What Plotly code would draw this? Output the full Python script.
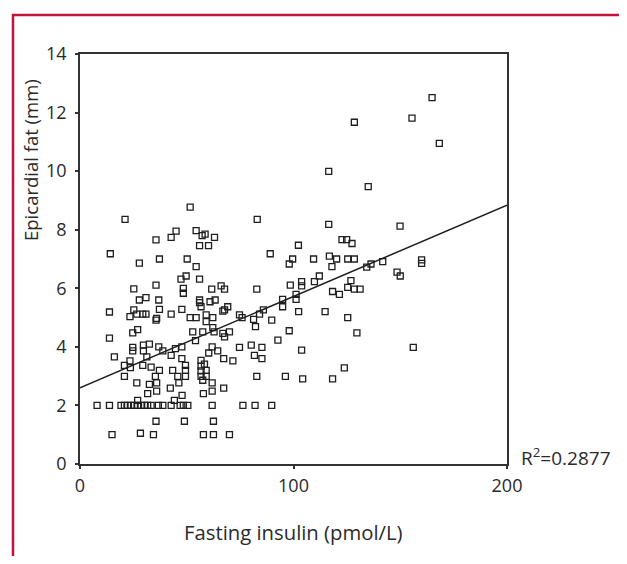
import plotly.graph_objects as go

# Fasting insulin (pmol/L) and epicardial fat thickness (mm)
insulin = [
    21.1, 51.6, 83.0, 35.6, 42.7, 45.0, 54.4, 56.0, 58.6, 57.2, 63.0, 60.2,
    14.2, 89.1, 27.8, 37.2, 50.2, 54.4, 35.6, 49.7, 47.3, 56.0, 25.2, 48.4,
    48.4, 61.7, 66.1, 67.7, 82.8, 27.8, 30.9, 36.9, 56.0, 56.0, 60.9, 63.3,
    13.8, 25.2, 23.4, 26.6, 29.4, 30.9, 37.2, 35.9, 35.6, 42.7, 47.7, 56.7,
    51.6, 54.4, 59.1, 62.2, 59.1, 66.9, 69.2, 67.7, 74.7, 75.9, 81.3, 84.1,
    85.9, 89.8, 82.2, 27.0, 24.7, 13.8, 52.8, 57.5, 62.2, 62.8, 66.9, 70.0,
    67.7, 54.1, 92.7, 24.7, 29.7, 32.5, 36.9, 29.7, 24.7, 38.8, 44.7, 47.7,
    61.9, 60.3, 64.5, 74.7, 80.2, 85.2, 16.1, 31.3, 42.7, 47.7, 81.7, 85.2,
    67.3, 71.6, 23.4, 20.8, 23.6, 29.4, 33.3, 37.2, 35.3, 20.8, 43.4, 49.4,
    49.4, 49.4, 45.8, 56.7, 56.7, 56.7, 56.7, 58.3, 59.1, 59.1, 57.5, 82.8,
    26.6, 32.5, 35.9, 46.3, 61.9, 35.9, 42.3, 67.3, 61.9, 31.7, 57.8, 47.8,
    44.2, 27.0,
    8.0, 13.8, 19.2, 20.8, 22.3, 23.9, 25.5, 27.0, 28.6, 30.2, 31.7, 33.3,
    36.7, 38.8, 42.7, 46.9, 48.4, 50.5, 61.9, 76.3, 82.0, 89.8,
    35.6, 48.9, 62.5, 15.0, 28.3, 34.4, 57.8, 62.5, 70.0,
    164.9, 128.5, 155.5, 168.3, 116.5, 135.0, 116.5, 149.9, 122.7, 124.9, 127.4, 102.3,
    98.0, 99.6, 109.4, 116.8, 120.2, 125.4, 128.5, 118.0, 160.0, 160.0, 141.8, 136.3,
    134.3, 148.5, 150.0, 112.1, 109.8, 103.8, 103.8, 98.5, 126.9, 125.4, 128.5, 131.2,
    118.3, 121.5, 101.2, 101.2, 94.9, 94.9, 102.4, 114.8, 125.4, 98.0, 129.7, 103.8,
    156.1, 96.2, 104.3, 118.3, 123.8,
]
epicardial_fat = [
    8.35, 8.77, 8.35, 7.65, 7.74, 7.95, 7.97, 7.46, 7.85, 7.80, 7.74, 7.46,
    7.18, 7.18, 6.86, 7.00, 7.00, 6.74, 6.11, 6.42, 6.31, 6.31, 5.98, 6.00,
    5.83, 5.97, 6.08, 5.97, 5.97, 5.60, 5.68, 5.60, 5.60, 5.51, 5.54, 5.60,
    5.19, 5.26, 5.03, 5.12, 5.12, 5.12, 5.28, 4.97, 4.91, 5.12, 5.28, 5.37,
    5.00, 5.00, 5.09, 5.00, 4.86, 5.22, 5.37, 5.26, 5.09, 5.00, 4.94, 5.12,
    5.26, 4.91, 4.69, 4.59, 4.48, 4.30, 4.51, 4.51, 4.66, 4.51, 4.46, 4.51,
    4.34, 4.21, 4.23, 3.98, 4.06, 4.09, 4.00, 3.86, 3.86, 3.86, 3.94, 4.00,
    4.00, 3.79, 3.86, 3.98, 4.06, 3.98, 3.66, 3.66, 3.71, 3.60, 3.71, 3.60,
    3.60, 3.52, 3.52, 3.37, 3.29, 3.37, 3.31, 3.20, 2.99, 2.99, 3.20, 3.37,
    3.20, 2.99, 2.99, 3.54, 3.34, 3.18, 2.99, 3.41, 3.20, 2.99, 2.86, 2.99,
    2.77, 2.72, 2.77, 2.77, 2.77, 2.49, 2.59, 2.59, 2.49, 2.40, 2.40, 2.34,
    2.17, 2.17,
    2.0, 2.0, 2.0, 2.0, 2.0, 2.0, 2.0, 2.0, 2.0, 2.0, 2.0, 2.0,
    2.0, 2.0, 2.0, 2.0, 2.0, 2.0, 2.0, 2.0, 2.0, 2.0,
    1.46, 1.46, 1.46, 1.00, 1.05, 1.00, 1.00, 1.00, 1.00,
    12.51, 11.67, 11.81, 10.95, 9.99, 9.47, 8.18, 8.12, 7.66, 7.66, 7.53, 7.47,
    6.83, 7.00, 7.00, 7.10, 7.00, 7.00, 7.00, 6.74, 6.97, 6.85, 6.91, 6.83,
    6.72, 6.55, 6.42, 6.42, 6.23, 6.23, 6.08, 6.11, 6.26, 6.03, 5.97, 5.97,
    5.89, 5.79, 5.79, 5.62, 5.62, 5.37, 5.20, 5.20, 5.00, 4.55, 4.48, 3.89,
    3.98, 2.99, 2.91, 2.91, 3.28,
]

# Fitted regression line end points
fit_x = [0, 200]
fit_y = [2.6, 8.84]
r_squared = "0.2877"

x_ticks = [0, 100, 200]
y_ticks = [0, 2, 4, 6, 8, 10, 12, 14]

FONT = "Open Sans, Noto Sans, sans-serif"
TXT = "#2a2a2a"

fig = go.Figure()
fig.add_trace(go.Scatter(
    x=insulin, y=epicardial_fat, mode="markers",
    marker=dict(symbol="square-open", size=6, color="#1e1e1e",
                line=dict(width=1.3, color="#1e1e1e")),
    showlegend=False, hoverinfo="x+y",
))
fig.add_trace(go.Scatter(
    x=fit_x, y=fit_y, mode="lines",
    line=dict(color="#1e1e1e", width=1.5),
    showlegend=False, hoverinfo="skip",
))

# page body has an 8px margin; work in page pixel coordinates
OFF = 8
W, H = 627 - OFF, 564 - 2 * OFF
L, T = 80 - OFF, 54 - OFF
pw, ph = 427, 410
R = W - L - pw
B = H - T - ph


def px(xp):
    return (xp - OFF - L) / pw


def py(yp):
    return (T + ph - (yp - OFF)) / ph


fig.update_layout(
    width=W, height=H,
    margin=dict(l=L, r=R, t=T, b=B, pad=0),
    paper_bgcolor="white", plot_bgcolor="white",
    font=dict(family=FONT, size=18, color=TXT),
    xaxis=dict(range=[0, 200], tickvals=x_ticks, showgrid=False, zeroline=False,
               showline=True, linecolor="#333", linewidth=1.5, mirror=True,
               ticks="outside", ticklen=3, tickwidth=2, tickcolor="#333",
               tickfont=dict(size=18, color=TXT), ticklabelstandoff=2),
    yaxis=dict(range=[0, 14], tickvals=y_ticks, showgrid=False, zeroline=False,
               showline=True, linecolor="#333", linewidth=1.5, mirror=True,
               ticks="outside", ticklen=3, tickwidth=2, tickcolor="#333",
               tickfont=dict(size=18, color=TXT), ticklabelstandoff=5),
    shapes=[dict(type="rect", xref="paper", yref="paper",
                 x0=px(13), x1=px(621), y0=py(640), y1=py(15),
                 line=dict(color="#c0143c", width=2.5), layer="above")],
    annotations=[
        dict(text="Epicardial fat (mm)", xref="paper", yref="paper",
             x=px(30), y=py(160), textangle=-90, showarrow=False,
             xanchor="center", yanchor="middle", font=dict(size=18.5, color=TXT)),
        dict(text="Fasting insulin (pmol/L)", xref="paper", yref="paper",
             x=px(293), y=py(532), showarrow=False,
             xanchor="center", yanchor="middle", font=dict(size=20.3, color=TXT)),
        dict(text="R<sup>2</sup>=" + r_squared, xref="paper", yref="paper",
             x=px(519), y=py(457), showarrow=False,
             xanchor="left", yanchor="middle", font=dict(size=19, color=TXT)),
    ],
)

fig.write_html("out.html")
